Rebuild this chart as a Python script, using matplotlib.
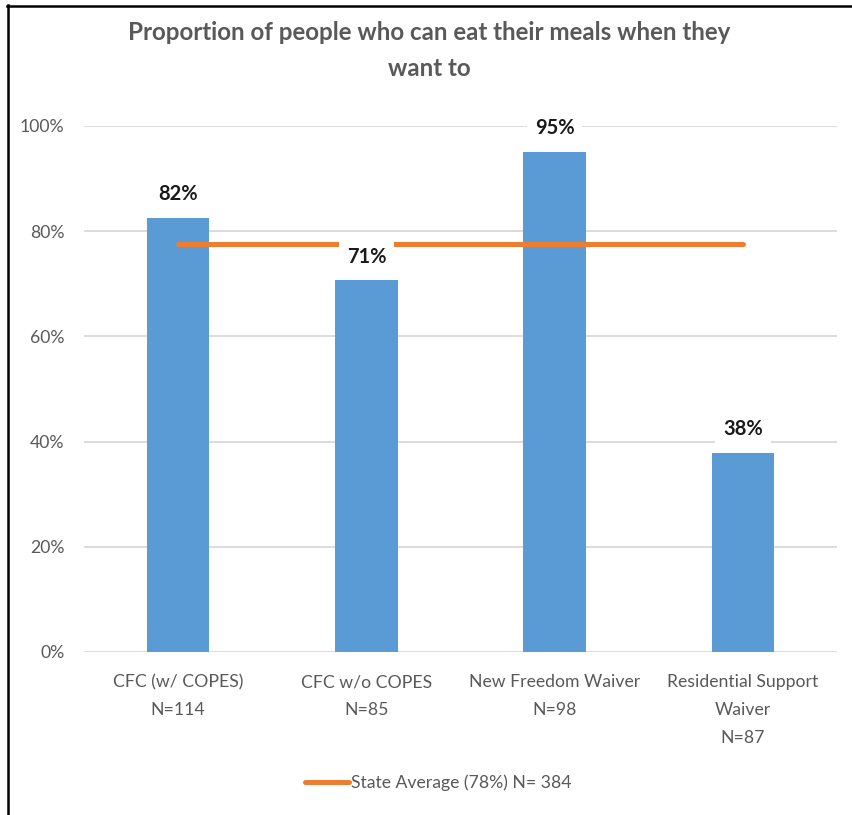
import matplotlib
matplotlib.use("Agg")
import matplotlib.pyplot as plt
from matplotlib.lines import Line2D

plt.rcParams['font.family'] = ['Lato', 'DejaVu Sans']

# Data
categories = ["CFC (w/ COPES)\nN=114", "CFC w/o COPES\nN=85",
              "New Freedom Waiver\nN=98", "Residential Support\nWaiver\nN=87"]
values = [82.5, 70.7, 95.1, 37.9]
labels = ["82%", "71%", "95%", "38%"]
state_avg = 77.6
legend_label = "State Average (78%) N= 384"
yticks = [0, 20, 40, 60, 80, 100]

W, H = 852, 815
fig = plt.figure(figsize=(W / 100, H / 100), dpi=100)
ax = fig.add_axes([84 / W, 1 - 652 / H, (837 - 84) / W, (652 - 126) / H])

x = list(range(len(categories)))
ax.bar(x, values, width=0.333, color="#5B9BD5", zorder=2)
line, = ax.plot(x, [state_avg] * len(x), color="#ED7D31", linewidth=3.6,
                solid_capstyle="round", zorder=3)

for xi, v, lab in zip(x, values, labels):
    ax.annotate(lab, xy=(xi, v), xytext=(0, 17), textcoords="offset points",
                ha="center", va="center", fontsize=14.5, fontweight="bold",
                color="#1a1a1a", zorder=5,
                bbox=dict(boxstyle="square,pad=0.4", facecolor="white", edgecolor="none"))

ax.set_xlim(-0.5, 3.5)
ax.set_ylim(0, 100)
ax.set_yticks(yticks)
ax.set_yticklabels([f"{t}%" for t in yticks])
ax.set_xticks(x)
ax.set_xticklabels(categories)
for t in ax.get_xticklabels():
    t.set_linespacing(1.9)
ax.tick_params(axis="both", length=0, labelsize=12.7, labelcolor="#595959")
ax.tick_params(axis="y", pad=14)
ax.tick_params(axis="x", pad=16)
ax.grid(axis="y", color="#D9D9D9", linewidth=1.3, zorder=0)
ax.set_axisbelow(True)
for s in ax.spines.values():
    s.set_visible(False)

fig.text(429 / W, 1 - 32 / H, "Proportion of people who can eat their meals when they",
         ha="center", va="center", fontsize=17.4, fontweight="bold", color="#595959")
fig.text(429 / W, 1 - 68 / H, "want to",
         ha="center", va="center", fontsize=17.4, fontweight="bold", color="#595959")

fig.legend([line], [legend_label], loc="center", bbox_to_anchor=(438 / W, 1 - 783 / H),
           frameon=False, fontsize=12.7, handlelength=2.5, handletextpad=0.1,
           labelcolor="#595959")

# frame lines (top and left)
fig.add_artist(Line2D([7 / W, 1], [1 - 6 / H, 1 - 6 / H], color="black", linewidth=1.8,
                      transform=fig.transFigure))
fig.add_artist(Line2D([8 / W, 8 / W], [0, 1 - 5 / H], color="black", linewidth=1.8,
                      transform=fig.transFigure))

fig.savefig("out.png", dpi=100, facecolor="white")
